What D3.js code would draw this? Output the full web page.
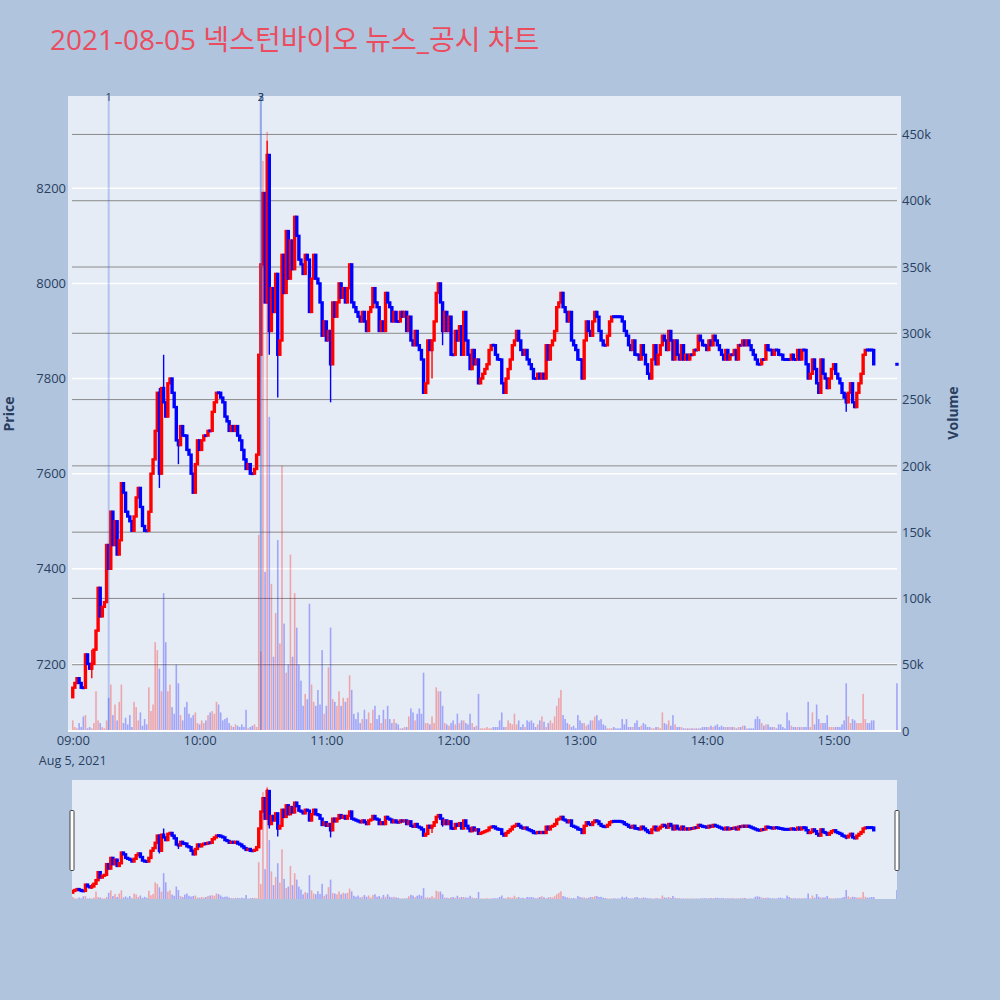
<!DOCTYPE html>
<html>
<head>
	<meta charset="UTF-8">
	<title>넥스턴바이오 뉴스_공시 차트</title>
	<script src="https://cdn.jsdelivr.net/npm/d3@7"></script>
	<style>
		body {
			padding: 0;
			margin: 0;
			background: #b0c4de;
		}
	</style>
</head>
<body>
	<script>
		var tradeDate = "2021-08-05";
		var titleText = "2021-08-05 넥스턴바이오 뉴스_공시 차트";

		// one close per minute from 09:00, the open is the close of the minute before
		var firstOpen = 7130;
		var closes = [
			7150, 7160, 7170, 7160, 7150, 7150, 7220, 7200, 7190, 7200,
			7230, 7270, 7360, 7300, 7320, 7330, 7450, 7400, 7520, 7450,
			7500, 7430, 7460, 7580, 7560, 7520, 7510, 7500, 7480, 7510,
			7550, 7570, 7530, 7490, 7480, 7480, 7520, 7600, 7630, 7690,
			7770, 7600, 7780, 7750, 7720, 7790, 7800, 7770, 7740, 7670,
			7660, 7700, 7680, 7680, 7650, 7640, 7600, 7560, 7620, 7670,
			7650, 7670, 7680, 7680, 7690, 7690, 7730, 7750, 7770, 7770,
			7760, 7750, 7720, 7710, 7690, 7700, 7690, 7700, 7680, 7670,
			7650, 7630, 7610, 7620, 7600, 7600, 7610, 7640, 7850, 8040,
			8190, 7960, 8270, 7900, 7990, 7940, 8020, 7850, 7880, 8060,
			7980, 8110, 8010, 8090, 8030, 8140, 8100, 8050, 8040, 8020,
			8060, 8050, 7940, 8010, 8060, 8010, 8000, 7960, 7890, 7920,
			7880, 7900, 7830, 7960, 7930, 7960, 8000, 7970, 7990, 7960,
			7990, 8040, 7960, 7950, 7940, 7930, 7920, 7940, 7920, 7900,
			7940, 7950, 7990, 7960, 7950, 7900, 7920, 7900, 7980, 7960,
			7950, 7920, 7940, 7920, 7920, 7940, 7930, 7940, 7900, 7930,
			7880, 7870, 7900, 7870, 7860, 7840, 7770, 7790, 7880, 7860,
			7880, 7920, 7980, 8000, 7960, 7900, 7940, 7900, 7930, 7850,
			7850, 7900, 7880, 7910, 7850, 7940, 7880, 7850, 7820, 7860,
			7830, 7840, 7790, 7800, 7810, 7820, 7830, 7860, 7870, 7870,
			7850, 7840, 7840, 7790, 7770, 7800, 7820, 7840, 7870, 7880,
			7900, 7880, 7860, 7850, 7860, 7840, 7830, 7820, 7800, 7800,
			7810, 7800, 7810, 7800, 7870, 7840, 7870, 7880, 7900, 7950,
			7960, 7980, 7950, 7940, 7920, 7940, 7880, 7870, 7860, 7840,
			7840, 7800, 7880, 7920, 7900, 7890, 7920, 7940, 7930, 7900,
			7880, 7870, 7870, 7890, 7920, 7930, 7930, 7930, 7930, 7930,
			7920, 7900, 7890, 7870, 7860, 7880, 7850, 7850, 7840, 7870,
			7850, 7830, 7810, 7800, 7840, 7870, 7830, 7850, 7870, 7890,
			7880, 7860, 7900, 7880, 7840, 7880, 7850, 7840, 7870, 7840,
			7850, 7840, 7850, 7850, 7860, 7860, 7890, 7880, 7870, 7870,
			7860, 7880, 7870, 7890, 7880, 7870, 7860, 7850, 7840, 7860,
			7840, 7850, 7850, 7860, 7840, 7870, 7870, 7880, 7870, 7880,
			7870, 7860, 7850, 7840, 7830, 7830, 7840, 7840, 7870, 7860,
			7860, 7850, 7860, 7860, 7850, 7850, 7840, 7840, 7840, 7840,
			7850, 7840, 7840, 7860, 7840, 7860, 7860, 7830, 7800, 7810,
			7840, 7820, 7790, 7770, 7840, 7810, 7800, 7780, 7800, 7820,
			7830, 7810, 7800, 7790, 7770, 7760, 7750, 7770, 7790, 7750,
			7740, 7770, 7790, 7810, 7850, 7860, 7860, 7860, 7860, 7830
		];
		// volume per minute, thousands of shares
		var volumes = [
			8, 3, 2, 6, 3, 11, 12, 2, 3, 2,
			6, 30, 8, 6, 3, 2, 8, 25, 35, 12,
			20, 8, 22, 35, 6, 10, 5, 12, 3, 22,
			18, 8, 14, 4, 9, 5, 33, 15, 20, 67,
			61, 47, 30, 104, 67, 30, 35, 18, 13, 50,
			36, 12, 8, 18, 22, 13, 10, 12, 14, 6,
			5, 8, 6, 8, 12, 14, 15, 13, 22, 20,
			14, 8, 9, 10, 6, 4, 3, 5, 4, 3,
			5, 3, 16, 2, 3, 4, 5, 3, 148, 60,
			430, 120, 452, 237, 111, 56, 89, 144, 66, 200,
			81, 44, 50, 133, 56, 104, 78, 50, 38, 19,
			28, 24, 96, 35, 22, 19, 31, 20, 61, 13,
			19, 48, 78, 24, 22, 19, 30, 19, 25, 22,
			25, 42, 31, 13, 9, 14, 6, 9, 16, 9,
			14, 6, 16, 19, 9, 12, 6, 16, 9, 19,
			9, 6, 9, 6, 5, 2, 2, 3, 3, 11,
			17, 14, 8, 13, 17, 13, 44, 6, 6, 5,
			11, 6, 33, 30, 30, 19, 6, 5, 4, 6,
			8, 5, 13, 6, 8, 8, 6, 5, 13, 6,
			3, 4, 28, 2, 2, 2, 3, 2, 2, 3,
			3, 3, 8, 14, 3, 3, 8, 6, 5, 13,
			5, 8, 3, 5, 3, 8, 7, 8, 6, 3,
			5, 8, 11, 7, 3, 6, 8, 6, 11, 19,
			25, 31, 12, 9, 6, 5, 3, 4, 2, 12,
			8, 6, 6, 4, 5, 8, 8, 11, 12, 8,
			9, 5, 4, 2, 2, 2, 3, 2, 2, 2,
			9, 5, 9, 3, 3, 3, 6, 8, 3, 4,
			6, 5, 3, 3, 2, 2, 3, 3, 2, 14,
			6, 5, 8, 4, 12, 5, 3, 3, 3, 2,
			2, 2, 2, 2, 2, 2, 2, 2, 3, 3,
			3, 3, 4, 3, 4, 5, 3, 4, 3, 3,
			3, 3, 3, 3, 2, 3, 3, 4, 4, 2,
			2, 2, 2, 9, 11, 9, 6, 4, 5, 5,
			3, 3, 3, 2, 5, 5, 3, 2, 14, 8,
			4, 3, 3, 3, 3, 3, 3, 3, 22, 3,
			14, 5, 20, 9, 6, 6, 6, 12, 3, 3,
			3, 3, 3, 3, 5, 8, 36, 11, 6, 9,
			8, 6, 6, 6, 28, 9, 6, 6, 8, 8
		];
		// wicks that reach past the body
		var wickIdx = [9, 41, 43, 50, 92, 93, 97, 122, 170, 175, 366];
		var wickLow = [7170, 7570, 7750, 7620, 7990, 7850, 7760, 7750, 7800, 7870, 7730];
		var wickHigh = [7230, 7780, 7850, 7670, 8300, 8120, 7940, 7900, 7880, 7960, 7770];

		// closing auction print
		var auctionTime = "15:30";
		var auctionPrice = 7830;
		var auctionVolume = 36;

		var newsTimes = ["09:17", "10:29", "10:29"];
		var newsLabels = ["1", "2", "3"];

		var priceTicks = [7200, 7400, 7600, 7800, 8000, 8200];
		var volumeTicks = [0, 50000, 100000, 150000, 200000, 250000, 300000, 350000, 400000, 450000];
		var volumeTickLabels = ["0", "50k", "100k", "150k", "200k", "250k", "300k", "350k", "400k", "450k"];
		var hourTicks = ["09:00", "10:00", "11:00", "12:00", "13:00", "14:00", "15:00"];

		var w = 1000,
			h = 1000;
		var plotL = 68, plotR = 901, plotT = 96, plotB = 731;
		var slL = 72, slR = 897, slT = 780, slB = 899;
		var upColor = "#ff0000", downColor = "#0000ff";
		var tickColor = "#2a3f5f";
		var font = "'Open Sans', 'Noto Sans', 'Noto Sans CJK KR', sans-serif";

		var parseTime = d3.timeParse("%Y-%m-%d %H:%M");
		var t0 = parseTime(tradeDate + " 09:00");

		var candles = closes.map(function (c, i) {
			var o = i === 0 ? firstOpen : closes[i - 1];
			var lo = Math.min(o, c), hi = Math.max(o, c);
			var k = wickIdx.indexOf(i);
			if (k >= 0) {
				lo = Math.min(lo, wickLow[k]);
				hi = Math.max(hi, wickHigh[k]);
			}
			return { t: d3.timeMinute.offset(t0, i), o: o, h: hi, l: lo, c: c, v: volumes[i] * 1000 };
		});
		candles.push({
			t: parseTime(tradeDate + " " + auctionTime),
			o: auctionPrice, h: auctionPrice, l: auctionPrice, c: auctionPrice,
			v: auctionVolume * 1000
		});

		var x = d3.scaleTime()
			.domain([parseTime(tradeDate + " 08:57").getTime() + 45000, parseTime(tradeDate + " 15:31").getTime() + 55000])
			.range([plotL, plotR]);
		var yPrice = d3.scaleLinear().domain([7059, 8394]).range([plotB, plotT]);
		var yVol = d3.scaleLinear().domain([0, 479000]).range([plotB, plotT]);
		var ySlPrice = d3.scaleLinear().domain([7059, 8394]).range([slB, slT]);
		var ySlVol = d3.scaleLinear().domain([0, 479000]).range([slB, slT]);

		var svg = d3.select("body").append("svg")
			.attr("width", w)
			.attr("height", h)
			.style("font-family", font);

		svg.append("rect").attr("width", w).attr("height", h).attr("fill", "#b0c4de");

		var defs = svg.append("defs");
		defs.append("clipPath").attr("id", "clipMain").append("rect")
			.attr("x", plotL).attr("y", plotT).attr("width", plotR - plotL).attr("height", plotB - plotT);
		defs.append("clipPath").attr("id", "clipSlider").append("rect")
			.attr("x", slL).attr("y", slT).attr("width", slR - slL).attr("height", slB - slT);

		// title
		svg.append("text")
			.attr("x", 50).attr("y", 50)
			.attr("fill", "#eb4d5f")
			.style("font-size", "28px")
			.text(titleText);

		// main plot background and grid
		svg.append("rect")
			.attr("x", plotL).attr("y", plotT)
			.attr("width", plotR - plotL).attr("height", plotB - plotT)
			.attr("fill", "#e5ecf6");

		svg.append("g").selectAll("line").data(priceTicks).enter().append("line")
			.attr("x1", 72).attr("x2", 897)
			.attr("y1", function (d) { return yPrice(d); })
			.attr("y2", function (d) { return yPrice(d); })
			.attr("stroke", "#ffffff").attr("stroke-width", 1.5);

		svg.append("g").selectAll("line").data(volumeTicks.slice(1)).enter().append("line")
			.attr("x1", 72).attr("x2", 897)
			.attr("y1", function (d) { return yVol(d); })
			.attr("y2", function (d) { return yVol(d); })
			.attr("stroke", "#8a8a8a").attr("stroke-width", 1);

		function colorOf(d) { return d.c > d.o ? upColor : downColor; }

		function drawTrace(g, yP, yV) {
			var cg = g.append("g");
			cg.selectAll("line").data(candles).enter().append("line")
				.attr("x1", function (d) { return x(d.t); })
				.attr("x2", function (d) { return x(d.t); })
				.attr("y1", function (d) { return yP(d.h); })
				.attr("y2", function (d) { return yP(d.l); })
				.attr("stroke", colorOf)
				.attr("stroke-width", 1.4);
			// a body of zero height would not be drawn at all, so keep a sliver
			cg.selectAll("rect").data(candles).enter().append("rect")
				.attr("x", function (d) { return x(d.t) - 0.5; })
				.attr("y", function (d) {
					var top = yP(Math.max(d.o, d.c));
					return Math.abs(yP(d.o) - yP(d.c)) < 0.6 ? top - 0.3 : top;
				})
				.attr("width", 1)
				.attr("height", function (d) { return Math.max(Math.abs(yP(d.o) - yP(d.c)), 0.6); })
				.attr("fill", colorOf)
				.attr("stroke", colorOf)
				.attr("stroke-width", 2.4);

			g.append("g").selectAll("rect").data(candles).enter().append("rect")
				.attr("x", function (d) { return x(d.t) - 0.8; })
				.attr("y", function (d) { return yV(d.v); })
				.attr("width", 1.6)
				.attr("height", function (d) { return yV(0) - yV(d.v); })
				.attr("fill", colorOf)
				.attr("opacity", 0.3);
		}

		var main = svg.append("g").attr("clip-path", "url(#clipMain)");
		drawTrace(main, yPrice, yVol);

		// news markers
		newsTimes.forEach(function (t, i) {
			var xt = x(parseTime(tradeDate + " " + t));
			svg.append("line")
				.attr("x1", xt).attr("x2", xt)
				.attr("y1", plotT).attr("y2", plotB)
				.attr("stroke", "royalblue").attr("stroke-width", 2).attr("opacity", 0.3);
			svg.append("text")
				.attr("x", xt).attr("y", 101)
				.attr("text-anchor", "middle")
				.attr("fill", tickColor)
				.style("font-size", "11px")
				.text(newsLabels[i]);
		});

		// zero line of volume
		svg.append("line")
			.attr("x1", plotL).attr("x2", plotR)
			.attr("y1", plotB).attr("y2", plotB)
			.attr("stroke", "#ffffff").attr("stroke-width", 2);

		// axes
		var leftAxis = svg.append("g")
			.attr("transform", "translate(" + (plotL - 2) + ",0)")
			.call(d3.axisLeft(yPrice).tickValues(priceTicks).tickSize(0).tickPadding(0).tickFormat(d3.format("d")));
		var rightAxis = svg.append("g")
			.attr("transform", "translate(" + (plotR + 1) + ",0)")
			.call(d3.axisRight(yVol).tickValues(volumeTicks).tickSize(0).tickPadding(0)
				.tickFormat(function (d, i) { return volumeTickLabels[i]; }));
		var bottomAxis = svg.append("g")
			.attr("transform", "translate(0,733)")
			.call(d3.axisBottom(x)
				.tickValues(hourTicks.map(function (t) { return parseTime(tradeDate + " " + t); }))
				.tickSize(0).tickPadding(0)
				.tickFormat(d3.timeFormat("%H:%M")));
		[leftAxis, rightAxis, bottomAxis].forEach(function (a) {
			a.select(".domain").remove();
			a.selectAll("text").attr("fill", tickColor).style("font-size", "13px").style("font-family", font);
		});
		bottomAxis.selectAll("text").attr("dy", "0.9em");

		svg.append("text")
			.attr("x", x(t0)).attr("y", 765)
			.attr("text-anchor", "middle")
			.attr("fill", tickColor)
			.style("font-size", "12.5px")
			.text(d3.timeFormat("%b %-d, %Y")(t0));

		svg.append("text")
			.attr("transform", "translate(14,414) rotate(-90)")
			.attr("text-anchor", "middle")
			.attr("fill", tickColor)
			.style("font-size", "14px").style("font-weight", "bold")
			.text("Price");
		svg.append("text")
			.attr("transform", "translate(958,413) rotate(-90)")
			.attr("text-anchor", "middle")
			.attr("fill", tickColor)
			.style("font-size", "14px").style("font-weight", "bold")
			.text("Volume");

		// range slider
		svg.append("rect")
			.attr("x", slL).attr("y", slT)
			.attr("width", slR - slL).attr("height", slB - slT)
			.attr("fill", "#e5ecf6");
		var slider = svg.append("g").attr("clip-path", "url(#clipSlider)");
		drawTrace(slider, ySlPrice, ySlVol);

		[slL - 2, slR - 2].forEach(function (hx) {
			svg.append("rect")
				.attr("x", hx).attr("y", 810.5)
				.attr("width", 4).attr("height", 60)
				.attr("fill", "#ffffff")
				.attr("stroke", "#444444").attr("stroke-width", 1)
				.attr("rx", 1);
		});
	</script>
</body>
</html>
